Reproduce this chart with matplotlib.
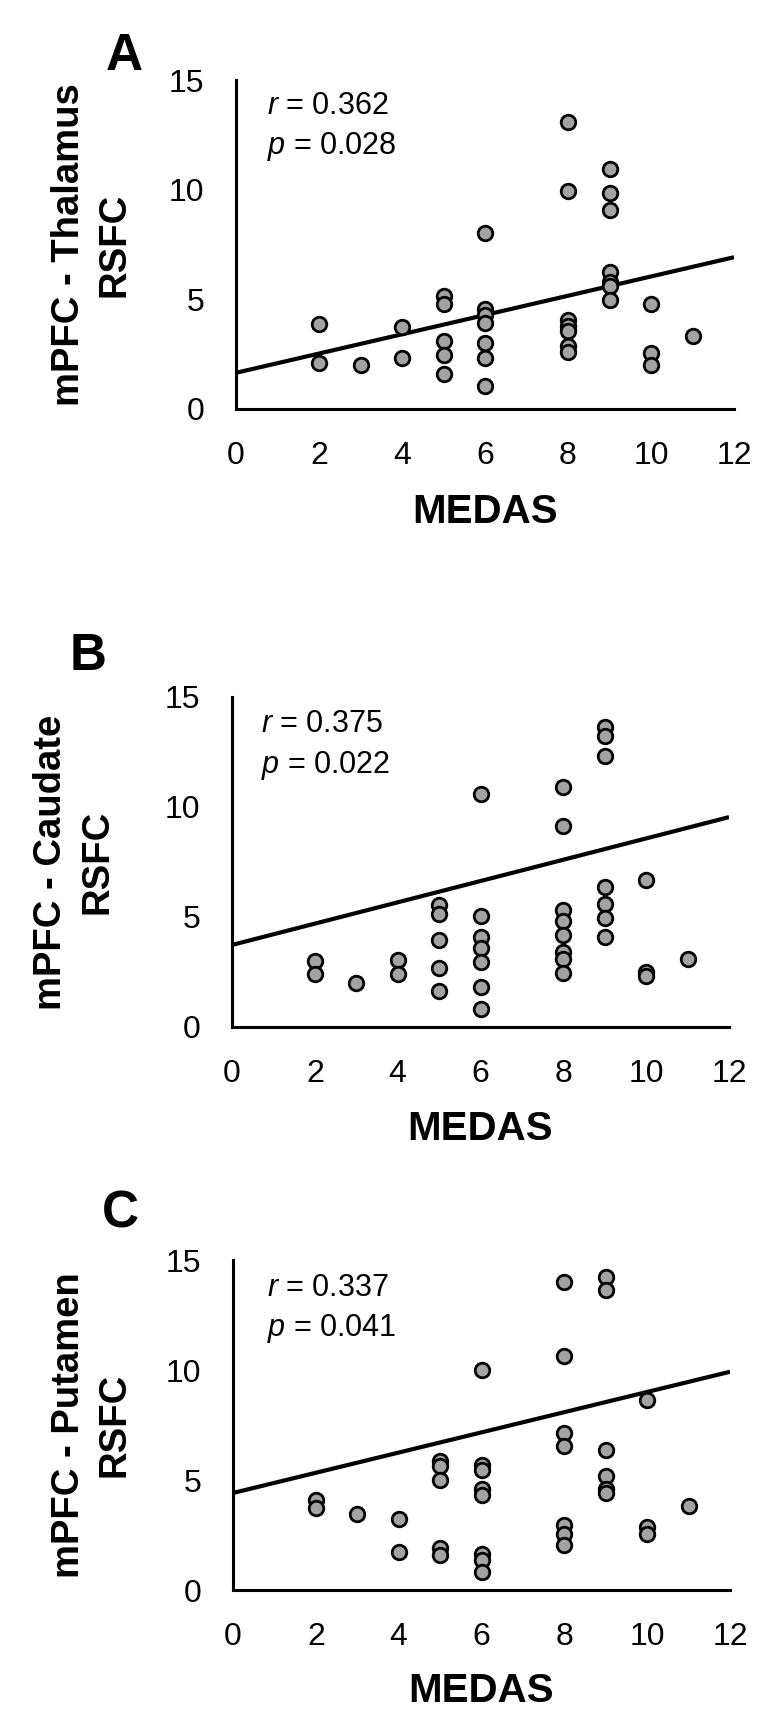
import matplotlib
matplotlib.use("Agg")
import matplotlib.pyplot as plt
import numpy as np

plt.rcParams['font.family'] = ['Liberation Sans', 'DejaVu Sans']
plt.rcParams['mathtext.fontset'] = 'custom'
plt.rcParams['mathtext.it'] = 'Liberation Sans:italic'
plt.rcParams['mathtext.rm'] = 'Liberation Sans'

# ---------------- data ----------------
medas_A = [2, 2, 3, 4, 4, 5, 5, 5, 5, 5, 6, 6, 6, 6, 6, 6, 6,
           8, 8, 8, 8, 8, 8, 8, 9, 9, 9, 9, 9, 9, 9, 10, 10, 10, 11]
rsfc_A = [3.87, 2.11, 2.01, 3.76, 2.31, 5.14, 4.78, 3.10, 2.47, 1.61,
          8.04, 4.56, 4.28, 3.92, 3.01, 2.34, 1.07,
          13.10, 9.92, 4.04, 3.79, 3.54, 2.88, 2.60,
          10.92, 9.83, 9.06, 6.23, 5.77, 5.63, 4.99,
          4.78, 2.55, 2.01, 3.35]

medas_B = [2, 2, 3, 4, 4, 5, 5, 5, 5, 5, 6, 6, 6, 6, 6, 6, 6,
           8, 8, 8, 8, 8, 8, 8, 8, 9, 9, 9, 9, 9, 9, 9, 10, 10, 10, 11]
rsfc_B = [3.00, 2.41, 1.99, 3.04, 2.41, 5.55, 5.13, 3.94, 2.67, 1.65,
          10.59, 5.04, 4.07, 3.57, 2.95, 1.82, 0.83,
          10.93, 9.12, 5.30, 4.82, 4.19, 3.40, 3.09, 2.44,
          13.62, 13.24, 12.31, 6.35, 5.60, 4.96, 4.11,
          6.69, 2.50, 2.33, 3.09]

medas_C = [2, 2, 3, 4, 4, 5, 5, 5, 5, 5, 6, 6, 6, 6, 6, 6, 6, 6,
           8, 8, 8, 8, 8, 8, 8, 9, 9, 9, 9, 9, 9, 10, 10, 10, 11]
rsfc_C = [4.07, 3.73, 3.47, 3.22, 1.75, 5.88, 5.64, 5.00, 1.92, 1.61,
          10.00, 5.68, 5.47, 4.58, 4.32, 1.64, 1.36, 0.80,
          14.02, 10.63, 7.15, 6.56, 2.97, 2.54, 2.03,
          14.24, 13.64, 6.36, 5.20, 4.58, 4.41,
          8.64, 2.88, 2.54, 3.81]

# fitted trend lines: value at MEDAS = 0 and MEDAS = 12
fit_x = [0, 12]
fit_A = [1.65, 6.92]
fit_B = [3.73, 9.54]
fit_C = [4.41, 9.92]

stats_A = ("0.362", "0.028")
stats_B = ("0.375", "0.022")
stats_C = ("0.337", "0.041")

ylabels = ["mPFC - Thalamus\nRSFC", "mPFC - Caudate\nRSFC", "mPFC - Putamen\nRSFC"]
panel_letters = ["A", "B", "C"]
xticks = [0, 2, 4, 6, 8, 10, 12]
yticks = [0, 5, 10, 15]

# ---------------- figure ----------------
fig = plt.figure(figsize=(7.68, 17.22), dpi=100)

W, H = 768.0, 1722.0
def rect(l, r, t, b):
    return [l / W, 1 - b / H, (r - l) / W, (b - t) / H]

panels = [
    dict(rect=rect(236, 734, 80, 409), x=medas_A, y=rsfc_A, fit=fit_A, st=stats_A,
         ylab=ylabels[0], letter=panel_letters[0], lpos=(124, 57), txt=(0.74, 13.8, 11.95),
         ylx=-0.207, xly=-0.255),
    dict(rect=rect(232, 729, 697, 1027), x=medas_B, y=rsfc_B, fit=fit_B, st=stats_B,
         ylab=ylabels[1], letter=panel_letters[1], lpos=(88, 657), txt=(0.69, 13.75, 11.9),
         ylx=-0.235, xly=-0.25),
    dict(rect=rect(233, 730, 1260, 1590), x=medas_C, y=rsfc_C, fit=fit_C, st=stats_C,
         ylab=ylabels[2], letter=panel_letters[2], lpos=(120, 1214), txt=(0.82, 13.75, 11.9),
         ylx=-0.202, xly=-0.25),
]

for p in panels:
    ax = fig.add_axes(p['rect'])
    ax.plot(fit_x, p['fit'], color='black', lw=3.0, zorder=2, solid_capstyle='butt')
    ax.scatter(p['x'], p['y'], s=110, facecolor='#a3a3a3', edgecolor='black',
               linewidths=2.0, zorder=3, clip_on=False)
    ax.set_xlim(0, 12)
    ax.set_ylim(0, 15)
    ax.set_xticks(xticks)
    ax.set_yticks(yticks)
    ax.tick_params(axis='both', length=0, labelsize=23, pad=23)
    for s in ['top', 'right']:
        ax.spines[s].set_visible(False)
    for s in ['left', 'bottom']:
        ax.spines[s].set_linewidth(2.2)
    ax.set_xlabel("MEDAS", fontsize=29, fontweight='bold')
    ax.xaxis.set_label_coords(0.5, p['xly'])
    ax.set_ylabel(p['ylab'], fontsize=27.5, fontweight='bold', linespacing=1.35)
    ax.yaxis.set_label_coords(p['ylx'], 0.5)
    tx, ty1, ty2 = p['txt']
    ax.text(tx, ty1, r"$r$ = " + p['st'][0], fontsize=22, va='center', ha='left')
    ax.text(tx, ty2, r"$p$ = " + p['st'][1], fontsize=22, va='center', ha='left')
    fig.text(p['lpos'][0] / W, 1 - p['lpos'][1] / H, p['letter'], fontsize=37,
             fontweight='bold', ha='center', va='center')

fig.savefig("out.png", dpi=100)
